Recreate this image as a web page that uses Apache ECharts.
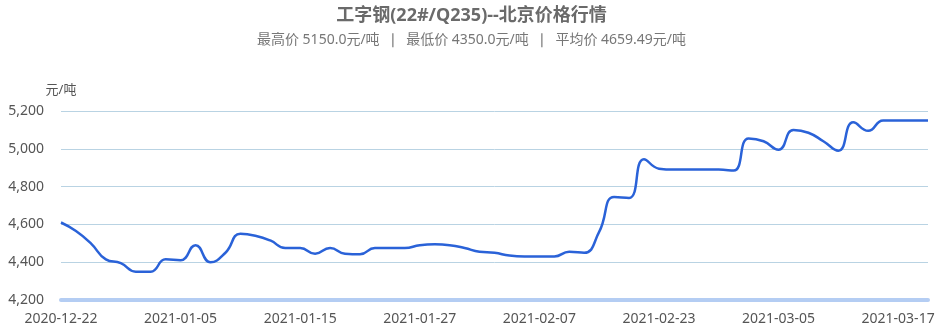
<!DOCTYPE html>
<html>
<head>
<meta charset="utf-8">
<script src="https://cdn.jsdelivr.net/npm/echarts@6/dist/echarts.min.js"></script>
<style>
html,body{margin:0;padding:0;background:#fff;}
#chart{width:943px;height:335px;}
</style>
</head>
<body>
<div id="chart"></div>
<script>
var titleText = '工字钢(22#/Q235)--北京价格行情';
var subText = '最高价 5150.0元/吨  \u2758  最低价 4350.0元/吨  \u2758  平均价 4659.49元/吨';
var unitName = '元/吨';
var dates = [
  '2020-12-22','2020-12-23','2020-12-24','2020-12-25','2020-12-28','2020-12-29','2020-12-30','2021-01-04',
  '2021-01-05','2021-01-06','2021-01-07','2021-01-08','2021-01-11','2021-01-12','2021-01-13','2021-01-14',
  '2021-01-15','2021-01-18','2021-01-19','2021-01-20','2021-01-21','2021-01-22','2021-01-25','2021-01-26',
  '2021-01-27','2021-01-28','2021-01-29','2021-02-01','2021-02-02','2021-02-03','2021-02-04','2021-02-05',
  '2021-02-07','2021-02-08','2021-02-09','2021-02-10','2021-02-18','2021-02-19','2021-02-20','2021-02-22',
  '2021-02-23','2021-02-24','2021-02-25','2021-02-26','2021-03-01','2021-03-02','2021-03-03','2021-03-04',
  '2021-03-05','2021-03-08','2021-03-09','2021-03-10','2021-03-11','2021-03-12','2021-03-15','2021-03-16',
  '2021-03-17','2021-03-18','2021-03-19'
];
var prices = [
  4610,4565,4500,4415,4395,4350,4350,4415,
  4410,4490,4400,4450,4550,4540,4515,4475,
  4475,4445,4475,4445,4442,4475,4475,4475,
  4490,4495,4490,4475,4455,4450,4435,4430,
  4430,4430,4455,4450,4560,4745,4740,4945,
  4895,4890,4890,4890,4890,4885,5055,5040,
  4995,5100,5085,5040,4990,5140,5095,5150,
  5150,5150,5150
];
var yMin = 4200, yMax = 5200, yStep = 200;

var chart = echarts.init(document.getElementById('chart'), null, {renderer:'canvas'});
var fontFam = '"Noto Sans", "Noto Sans CJK SC", sans-serif';
chart.setOption({
  animation:false,
  backgroundColor:'#fff',
  title:{
    text:titleText,
    subtext:subText,
    left:'center',
    top:2,
    itemGap:8,
    textStyle:{fontSize:18,fontWeight:'bold',color:'#6a6a6a',fontFamily:fontFam},
    subtextStyle:{fontSize:14,color:'#777',fontFamily:fontFam}
  },
  grid:{left:61,right:15,top:111,bottom:35,containLabel:false},
  xAxis:{
    type:'category',
    data:dates,
    boundaryGap:false,
    axisLine:{show:true,lineStyle:{color:'#b4cdf3',width:4,cap:'round'}},
    axisTick:{show:false},
    axisLabel:{interval:7,color:'#555',fontSize:14,margin:12,fontFamily:fontFam},
    splitLine:{show:false}
  },
  yAxis:{
    type:'value',
    min:yMin,max:yMax,interval:yStep,
    name:unitName,
    nameGap:14,
    nameTextStyle:{color:'#555',fontSize:13,fontFamily:fontFam},
    axisLine:{show:false},
    axisTick:{show:false},
    axisLabel:{color:'#555',fontSize:14,margin:17,fontFamily:fontFam,
      formatter:function(v){return v.toLocaleString('en-US');}},
    splitLine:{lineStyle:{color:'#b9d3e3',width:1}}
  },
  series:[{
    type:'line',
    data:prices,
    smooth:true,
    showSymbol:false,
    lineStyle:{color:'#2a62d8',width:2.5},
    itemStyle:{color:'#2a62d8'}
  }]
});
</script>
</body>
</html>
